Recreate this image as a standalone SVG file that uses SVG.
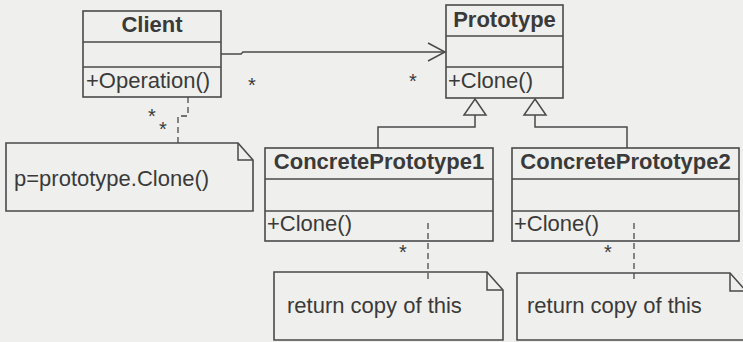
<svg xmlns="http://www.w3.org/2000/svg" width="743" height="342" viewBox="0 0 743 342">
<style>
.bg{fill:#efefed}
.box{fill:none;stroke:#4a4a4a;stroke-width:1.6}
.ln{fill:none;stroke:#4a4a4a;stroke-width:1.5}
.dash{fill:none;stroke:#4a4a4a;stroke-width:1.3;stroke-dasharray:6,4}
.t{font-family:"Liberation Sans",Arial,sans-serif;font-size:22px;fill:#3a3a3a}
.b{font-weight:bold;text-anchor:middle}
.s{font-family:"Liberation Sans",Arial,sans-serif;font-size:20px;fill:#3a3a3a;text-anchor:middle}
</style>
<rect class="bg" x="0" y="0" width="743" height="342"/>

<g id="client">
<rect class="box" x="83" y="11" width="138" height="86"/>
<line class="box" x1="83" y1="42" x2="221" y2="42"/>
<line class="box" x1="83" y1="67" x2="221" y2="67"/>
<text class="t b" x="152" y="32">Client</text>
<text class="t" x="86" y="88">+Operation()</text>
</g>

<g id="prototype">
<rect class="box" x="446" y="5" width="117" height="93"/>
<line class="box" x1="446" y1="36" x2="563" y2="36"/>
<line class="box" x1="446" y1="67" x2="563" y2="67"/>
<text class="t b" x="504.5" y="27">Prototype</text>
<text class="t" x="448" y="88">+Clone()</text>
</g>

<g id="concrete1">
<rect class="box" x="265" y="148" width="228" height="93"/>
<line class="box" x1="265" y1="179" x2="493" y2="179"/>
<line class="box" x1="265" y1="211" x2="493" y2="211"/>
<text class="t b" x="379" y="169">ConcretePrototype1</text>
<text class="t" x="267" y="231">+Clone()</text>
</g>

<g id="concrete2">
<rect class="box" x="512" y="148" width="227" height="93"/>
<line class="box" x1="512" y1="179" x2="739" y2="179"/>
<line class="box" x1="512" y1="211" x2="739" y2="211"/>
<text class="t b" x="625.5" y="169">ConcretePrototype2</text>
<text class="t" x="514" y="231">+Clone()</text>
</g>

<g id="note-client">
<path class="box" d="M6,143 H238 L253,160 V211 H6 Z"/>
<path class="ln" d="M238,143 V160 H253"/>
<text class="t" x="14" y="186">p=prototype.Clone()</text>
</g>

<g id="note-cp1">
<path class="box" d="M274,272 H487 L503,290 V340 H274 Z"/>
<path class="ln" d="M487,272 V290 H503"/>
<text class="t" x="287" y="313">return copy of this</text>
</g>

<g id="note-cp2">
<path class="box" d="M517,273 H730 L746,291 V340 H517 Z"/>
<path class="ln" d="M730,273 V291 H746"/>
<text class="t" x="527" y="313">return copy of this</text>
</g>

<g id="connectors">
<path class="ln" d="M221,54 H241 L243,52 H445"/>
<path class="ln" d="M428,43 L445,52 L428,61"/>
<text class="s" x="252" y="92">*</text>
<text class="s" x="413" y="88">*</text>

<path class="ln" d="M475,99 L486,115 H464 Z"/>
<path class="ln" d="M475,115 V127 H378 V148"/>
<path class="ln" d="M535,99 L546,115 H524 Z"/>
<path class="ln" d="M535,115 V127 H627 V148"/>

<path class="dash" d="M188,97 V116 H178 V143"/>
<text class="s" x="152" y="123">*</text>
<text class="s" x="163" y="136">*</text>

<path class="dash" d="M428,223 V283"/>
<text class="s" x="403" y="259">*</text>
<path class="dash" d="M634,223 V283"/>
<text class="s" x="608" y="259">*</text>
</g>
</svg>
